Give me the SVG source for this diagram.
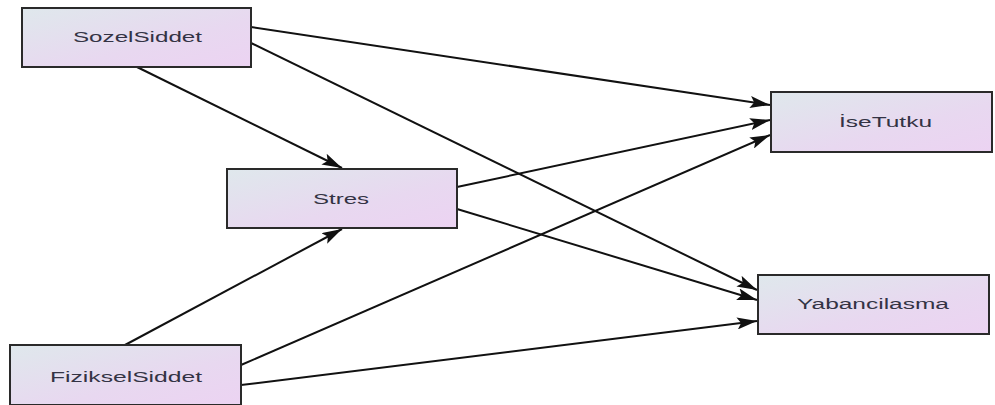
<svg xmlns="http://www.w3.org/2000/svg" width="995" height="405" viewBox="0 0 995 405">
<defs>
<linearGradient id="g" x1="0" y1="0" x2="1" y2="1">
<stop offset="0" stop-color="#dfe8ec"/>
<stop offset="0.6" stop-color="#e8d8f0"/>
<stop offset="1" stop-color="#ecd3f2"/>
</linearGradient>
<marker id="ah" viewBox="0 0 20 12" refX="20" refY="6" markerWidth="20" markerHeight="12" markerUnits="userSpaceOnUse" orient="auto">
<path d="M0,0 L20,6 L0,12 L4,6 Z" fill="#111"/>
</marker>
<style>
.box{fill:url(#g);stroke:#2a2a2a;stroke-width:2}
.lbl{font-family:"Liberation Sans",Arial,sans-serif;font-size:14px;fill:#333344;text-anchor:middle}
.e{stroke:#111;stroke-width:2;fill:none;marker-end:url(#ah)}
</style>
</defs>
<rect width="995" height="405" fill="#fff"/>
<g id="connectors">
<line class="e" x1="251" y1="27" x2="770" y2="105"/>
<line class="e" x1="251" y1="43" x2="757" y2="290"/>
<line class="e" x1="137" y1="67" x2="342" y2="168"/>
<line class="e" x1="457" y1="187" x2="770" y2="120"/>
<line class="e" x1="457" y1="209" x2="757" y2="300"/>
<line class="e" x1="125" y1="345" x2="342" y2="229"/>
<line class="e" x1="241" y1="365" x2="770" y2="135"/>
<line class="e" x1="241" y1="385" x2="757" y2="321"/>
</g>
<g id="SozelSiddet">
<rect class="box" x="22" y="8" width="229" height="59"/>
<text class="lbl" x="137.5" y="42" textLength="129" lengthAdjust="spacingAndGlyphs">SozelSiddet</text>
</g>
<g id="Stres">
<rect class="box" x="227" y="169" width="230" height="59"/>
<text class="lbl" x="341" y="204" textLength="56" lengthAdjust="spacingAndGlyphs">Stres</text>
</g>
<g id="FizikselSiddet">
<rect class="box" x="10" y="345" width="231" height="60"/>
<text class="lbl" x="126" y="382" textLength="152" lengthAdjust="spacingAndGlyphs">FizikselSiddet</text>
</g>
<g id="IseTutku">
<rect class="box" x="771" y="92" width="221" height="60"/>
<text class="lbl" x="885.5" y="127" textLength="93" lengthAdjust="spacingAndGlyphs">İseTutku</text>
</g>
<g id="Yabancilasma">
<rect class="box" x="758" y="275" width="231" height="59"/>
<text class="lbl" x="873" y="309" textLength="152" lengthAdjust="spacingAndGlyphs">Yabancilasma</text>
</g>
</svg>
